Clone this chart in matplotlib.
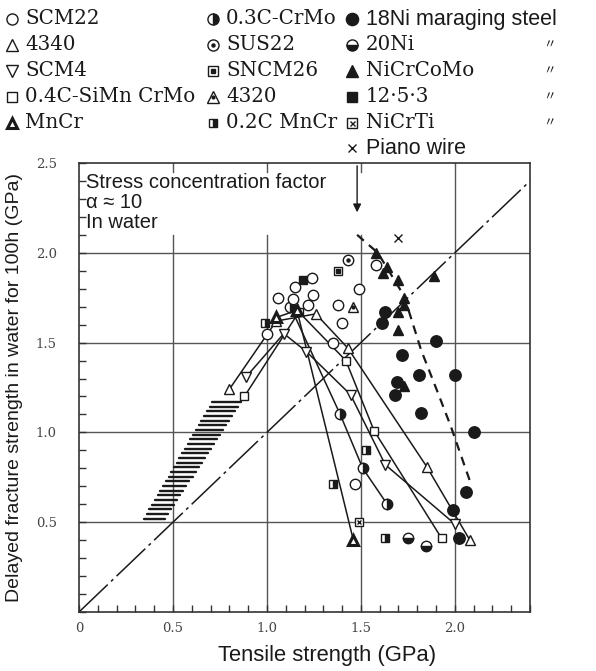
import numpy as np
import matplotlib
matplotlib.use('Agg')
import matplotlib.pyplot as plt
from matplotlib.ticker import MultipleLocator

# ---------------- data ----------------
x_ticks = [0, 0.5, 1.0, 1.5, 2.0]
x_tick_labels = ['0', '0.5', '1.0', '1.5', '2.0']
y_ticks = [0.5, 1.0, 1.5, 2.0, 2.5]
y_tick_labels = ['0.5', '1.0', '1.5', '2.0', '2.5']

# connected series (tensile strength, delayed fracture strength), GPa
s4340_x = [0.80, 1.05, 1.26, 1.43, 1.85, 2.08]
s4340_y = [1.24, 1.62, 1.66, 1.47, 0.81, 0.40]
scm4_x = [0.89, 1.09, 1.21, 1.445, 1.63, 2.00]
scm4_y = [1.31, 1.55, 1.45, 1.21, 0.82, 0.49]
sicrmo_x = [0.88, 1.17, 1.42, 1.57, 1.93]
sicrmo_y = [1.20, 1.67, 1.40, 1.01, 0.41]
mncr_x = [1.05, 1.16, 1.46]
mncr_y = [1.64, 1.68, 0.40]
crmo03_x = [1.125, 1.39, 1.51, 1.64]
crmo03_y = [1.70, 1.10, 0.80, 0.60]

# scatter-only series
scm22_x = [1.00, 1.06, 1.15, 1.24, 1.245, 1.22, 1.14, 1.35, 1.38, 1.40, 1.49, 1.58, 1.47]
scm22_y = [1.55, 1.75, 1.81, 1.86, 1.765, 1.71, 1.74, 1.50, 1.71, 1.61, 1.80, 1.93, 0.71]
sus22_x, sus22_y = [1.43], [1.96]
sncm26_x, sncm26_y = [1.38], [1.90]
s4320_x, s4320_y = [1.46], [1.70]
mncr02_x = [0.99, 1.35, 1.525, 1.63]
mncr02_y = [1.61, 0.71, 0.90, 0.41]
ni20_x = [1.75, 1.845]
ni20_y = [0.41, 0.37]
nicrti_x, nicrti_y = [1.49], [0.50]
m1253_x, m1253_y = [1.19], [1.85]
ni18_x = [1.63, 1.61, 1.90, 1.72, 1.81, 2.00, 1.69, 1.68, 1.82, 2.10, 2.06, 1.99, 2.02]
ni18_y = [1.67, 1.61, 1.51, 1.43, 1.32, 1.32, 1.28, 1.21, 1.11, 1.00, 0.67, 0.57, 0.41]
nicrcomo_x = [1.58, 1.64, 1.62, 1.70, 1.89, 1.73, 1.73, 1.70, 1.70, 1.73]
nicrcomo_y = [2.00, 1.92, 1.89, 1.85, 1.87, 1.75, 1.71, 1.67, 1.57, 1.26]
piano_x, piano_y = [1.70], [2.08]

# maraging trend (dashed) and reference line
trend_x = [1.48, 1.59, 1.73, 1.82, 1.91, 1.98, 2.08]
trend_y = [2.10, 2.00, 1.76, 1.46, 1.22, 1.03, 0.73]
diag_x = [0.0, 2.4]
diag_y = [0.0, 2.4]

# hatched band (water-environment region)
band_y = [0.52, 1.17]
band_left = [0.345, 0.71]
band_right = [0.46, 0.86]

# ---------------- drawing helpers ----------------
INK = '#1a1a1a'

def mk(ax, xs, ys, kind, ms=7.5, z=6):
    b = dict(linestyle='none', mec=INK, mew=1.0, zorder=z, clip_on=False)
    if kind == 'o':
        ax.plot(xs, ys, marker='o', ms=ms, mfc='white', **b)
    elif kind == '^':
        ax.plot(xs, ys, marker='^', ms=ms, mfc='white', **b)
    elif kind == 'v':
        ax.plot(xs, ys, marker='v', ms=ms, mfc='white', **b)
    elif kind == 's':
        ax.plot(xs, ys, marker='s', ms=ms * 0.85, mfc='white', **b)
    elif kind == '^b':
        b2 = dict(b); b2['mew'] = 2.2
        ax.plot(xs, ys, marker='^', ms=ms * 0.9, mfc='white', **b2)
    elif kind == 'oR':
        ax.plot(xs, ys, marker='o', ms=ms, fillstyle='right', mfc=INK,
                markerfacecoloralt='white', **b)
    elif kind == 'oB':
        ax.plot(xs, ys, marker='o', ms=ms, fillstyle='bottom', mfc=INK,
                markerfacecoloralt='white', **b)
    elif kind == 'sR':
        ax.plot(xs, ys, marker='s', ms=ms * 0.8, fillstyle='right', mfc=INK,
                markerfacecoloralt='white', **b)
    elif kind == 'oD':
        ax.plot(xs, ys, marker='o', ms=ms, mfc='white', **b)
        ax.plot(xs, ys, marker='o', ms=2.2, mfc=INK, **b)
    elif kind == 'sD':
        ax.plot(xs, ys, marker='s', ms=ms * 0.85, mfc='white', **b)
        ax.plot(xs, ys, marker='s', ms=2.2, mfc=INK, **b)
    elif kind == '^D':
        ax.plot(xs, ys, marker='^', ms=ms, mfc='white', **b)
        ax.plot(xs, ys, marker='o', ms=2.0, mfc=INK, **b)
    elif kind == 'sX':
        ax.plot(xs, ys, marker='s', ms=ms * 0.85, mfc='white', **b)
        ax.plot(xs, ys, marker='x', ms=ms * 0.45, **b)
    elif kind == 'O':
        ax.plot(xs, ys, marker='o', ms=ms * 1.1, mfc=INK, **b)
    elif kind == 'T':
        ax.plot(xs, ys, marker='^', ms=ms * 1.05, mfc=INK, **b)
    elif kind == 'S':
        ax.plot(xs, ys, marker='s', ms=ms * 0.85, mfc=INK, **b)
    elif kind == 'x':
        ax.plot(xs, ys, marker='x', ms=ms * 0.8, **b)

# ---------------- figure ----------------
W, H = 596, 671
fig = plt.figure(figsize=(W / 100, H / 100), dpi=100)
ax = fig.add_axes([79 / W, (H - 612) / H, 451 / W, 449 / H])
ax.set_xlim(0, 2.4)
ax.set_ylim(0, 2.5)

for sp in ax.spines.values():
    sp.set_linewidth(1.2)
    sp.set_color('#333333')

ax.set_xticks(x_ticks)
ax.set_xticklabels(x_tick_labels)
ax.set_yticks(y_ticks)
ax.set_yticklabels(y_tick_labels)
ax.xaxis.set_minor_locator(MultipleLocator(0.1))
ax.yaxis.set_minor_locator(MultipleLocator(0.1))
ax.tick_params(which='both', direction='in', length=5, width=1.0, color='#333333')
ax.tick_params(axis='x', pad=7)
ax.tick_params(axis='y', pad=16)
for lab in ax.get_xticklabels() + ax.get_yticklabels():
    lab.set_family('DejaVu Serif')
    lab.set_fontsize(9.5)
    lab.set_color('#444444')

# grid (partly hidden under the annotation box)
GC = '#555555'
for yv in [0.5, 1.0, 1.5, 2.0]:
    ax.plot([0, 2.4], [yv, yv], color=GC, lw=1.0, zorder=1)
for xv in [0.5, 1.0, 1.5]:
    ax.plot([xv, xv], [0, 2.1], color=GC, lw=1.0, zorder=1)
    ax.plot([xv, xv], [2.45, 2.5], color=GC, lw=1.0, zorder=1)
ax.plot([2.0, 2.0], [0, 2.5], color=GC, lw=1.0, zorder=1)

# reference line y = x
ax.plot(diag_x, diag_y, color=INK, lw=1.1, dashes=[26, 3, 2, 3], zorder=2)

# hatched band
for yv in np.arange(band_y[0], band_y[1] + 1e-6, 0.026):
    t = (yv - band_y[0]) / (band_y[1] - band_y[0])
    xl = band_left[0] + t * (band_left[1] - band_left[0])
    xr = band_right[0] + t * (band_right[1] - band_right[0])
    ax.plot([xl, xr], [yv, yv], color=INK, lw=1.7, zorder=2, solid_capstyle='round')

# connected series
for xs, ys in [(s4340_x, s4340_y), (scm4_x, scm4_y), (sicrmo_x, sicrmo_y),
               (mncr_x, mncr_y), (crmo03_x, crmo03_y)]:
    ax.plot(xs, ys, color=INK, lw=1.1, zorder=3)

# maraging trend
ax.plot(trend_x, trend_y, color=INK, lw=1.6, dashes=[4, 3], zorder=3)

# arrow
ax.annotate('', xy=(1.48, 2.21), xytext=(1.48, 2.5),
            arrowprops=dict(arrowstyle='-|>', color=INK, lw=1.0, mutation_scale=12),
            zorder=4)

# markers
mk(ax, s4340_x, s4340_y, '^')
mk(ax, scm4_x, scm4_y, 'v')
mk(ax, sicrmo_x, sicrmo_y, 's')
mk(ax, mncr_x, mncr_y, '^b')
mk(ax, crmo03_x, crmo03_y, 'oR')
mk(ax, scm22_x, scm22_y, 'o')
mk(ax, sus22_x, sus22_y, 'oD')
mk(ax, sncm26_x, sncm26_y, 'sD')
mk(ax, s4320_x, s4320_y, '^D')
mk(ax, mncr02_x, mncr02_y, 'sR')
mk(ax, ni20_x, ni20_y, 'oB')
mk(ax, nicrti_x, nicrti_y, 'sX')
mk(ax, m1253_x, m1253_y, 'S')
mk(ax, ni18_x, ni18_y, 'O')
mk(ax, nicrcomo_x, nicrcomo_y, 'T')
mk(ax, piano_x, piano_y, 'x')

# ---------------- overlay in pixel coordinates ----------------
lax = fig.add_axes([0, 0, 1, 1])
lax.set_xlim(0, W)
lax.set_ylim(H, 0)
lax.axis('off')
lax.patch.set_alpha(0)

SERIF = ['DejaVu Serif']
SANS = ['Liberation Sans', 'DejaVu Sans']
rows = [19, 45, 71, 97, 123, 148]
col1 = [('o', 'SCM22'), ('^', '4340'), ('v', 'SCM4'), ('s', '0.4C-SiMn CrMo'), ('^b', 'MnCr')]
col2 = [('oR', '0.3C-CrMo'), ('oD', 'SUS22'), ('sD', 'SNCM26'), ('^D', '4320'), ('sR', '0.2C MnCr')]
col3 = [('O', '18Ni maraging steel'), ('oB', '20Ni'), ('T', 'NiCrCoMo'), ('S', '12·5·3'),
        ('sX', 'NiCrTi'), ('x', 'Piano wire')]
for i, (k, s) in enumerate(col1):
    mk(lax, [12], [rows[i]], k, ms=8)
    lax.text(25, rows[i], s, va='center', ha='left', fontsize=14.3, family=SERIF, color=INK)
for i, (k, s) in enumerate(col2):
    mk(lax, [213], [rows[i]], k, ms=8)
    lax.text(226, rows[i], s, va='center', ha='left', fontsize=14.3, family=SERIF, color=INK)
for i, (k, s) in enumerate(col3):
    mk(lax, [352], [rows[i]], k, ms=8)
    fam = SANS if s in ('18Ni maraging steel', 'Piano wire') else SERIF
    fs = 15.5 if fam is SANS else 14.3
    lax.text(366, rows[i], s, va='center', ha='left', fontsize=fs, family=fam, color=INK)
for i in range(1, 5):
    lax.text(549, rows[i], '〃', va='center', ha='center', fontsize=9,
             family=['Noto Sans CJK JP', 'DejaVu Sans'], color=INK)

# annotation
ANN = ['Stress concentration factor', 'α ≈ 10', 'In water']
for i, s in enumerate(ANN):
    lax.text(86, 182 + 20 * i, s, va='center', ha='left', fontsize=14.5,
             family=SANS, color=INK)

# axis labels
lax.text(15, 387, 'Delayed fracture strength in water for 100h (GPa)', rotation=90,
         va='center', ha='center', fontsize=14, family=SANS, color=INK)
lax.text(327, 655, 'Tensile strength (GPa)', va='center', ha='center',
         fontsize=15.8, family=SANS, color=INK)

fig.savefig('out.png', dpi=100)
